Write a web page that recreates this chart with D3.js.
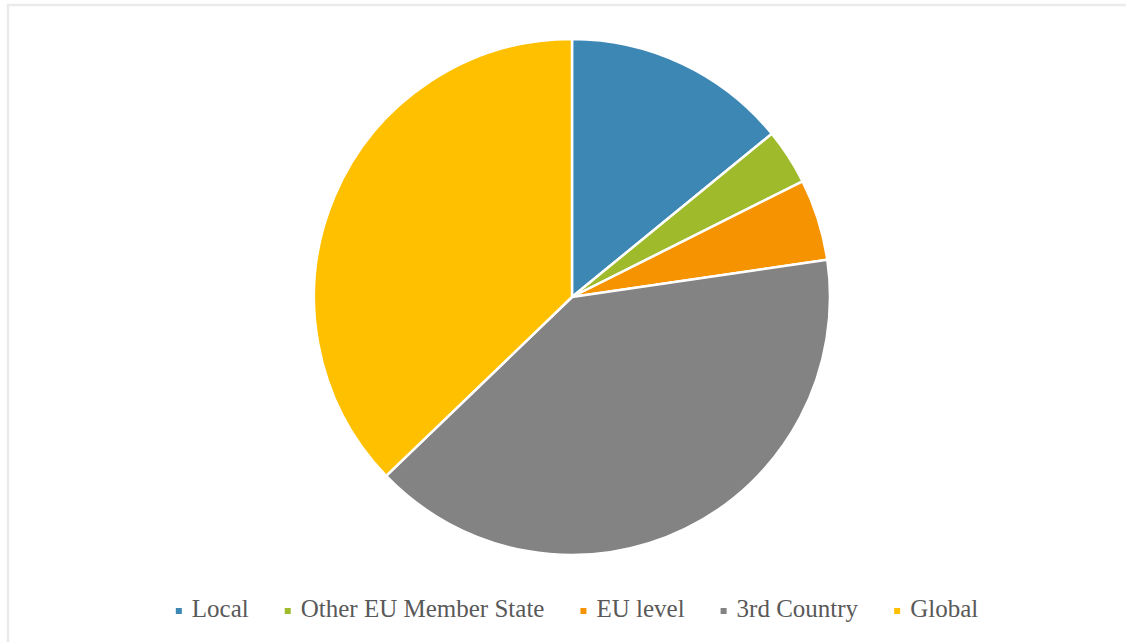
<!DOCTYPE html>
<html>
<head>
<meta charset="utf-8">
<script src="https://cdn.jsdelivr.net/npm/d3@7"></script>
<style>
  html, body { margin: 0; padding: 0; background: #ffffff; }
  svg { display: block; }
  .legend text { font-family: "Liberation Serif", "Times New Roman", "DejaVu Serif", Times, serif; }
</style>
</head>
<body>
<svg id="chart" width="1126" height="642"></svg>
<script>
// Share of activities by geographic scope (%)
const categories = ["Local", "Other EU Member State", "EU level", "3rd Country", "Global"];
const values = [14.1, 3.5, 5.1, 40.1, 37.2];
const colors = ["#3d87b5", "#9fba2b", "#f59300", "#838383", "#ffc000"];

const width = 1126, height = 642;
const cx = 572, cy = 297, radius = 258;

const svg = d3.select("#chart");

// chart frame
svg.append("path")
  .attr("d", `M8,${height} L8,5 L${width},5`)
  .attr("fill", "none")
  .attr("stroke", "#ebebeb")
  .attr("stroke-width", 2.5);

const data = categories.map((c, i) => ({ name: c, value: values[i], color: colors[i] }));

const pie = d3.pie().sort(null).value(d => d.value).startAngle(0).endAngle(2 * Math.PI);
const arc = d3.arc().innerRadius(0).outerRadius(radius);

svg.append("g")
  .attr("transform", `translate(${cx},${cy})`)
  .selectAll("path")
  .data(pie(data))
  .join("path")
  .attr("d", arc)
  .attr("fill", d => d.data.color)
  .attr("stroke", "#ffffff")
  .attr("stroke-width", 2.5)
  .attr("stroke-linejoin", "round");

// legend
const legend = svg.append("g").attr("class", "legend");
const items = legend.selectAll("g")
  .data(data)
  .join("g");

items.append("rect")
  .attr("width", 6).attr("height", 6)
  .attr("x", 0).attr("y", -9)
  .attr("fill", d => d.color);

items.append("text")
  .attr("x", 16).attr("y", 0)
  .attr("font-size", 25)
  .attr("fill", "#595959")
  .text(d => d.name);

const gap = 36;
let widths = [];
items.each(function () {
  widths.push(16 + d3.select(this).select("text").node().getComputedTextLength());
});
const total = d3.sum(widths) + gap * (widths.length - 1);
let x = 577 - total / 2;
items.each(function (d, i) {
  d3.select(this).attr("transform", `translate(${x},617)`);
  x += widths[i] + gap;
});
</script>
</body>
</html>
